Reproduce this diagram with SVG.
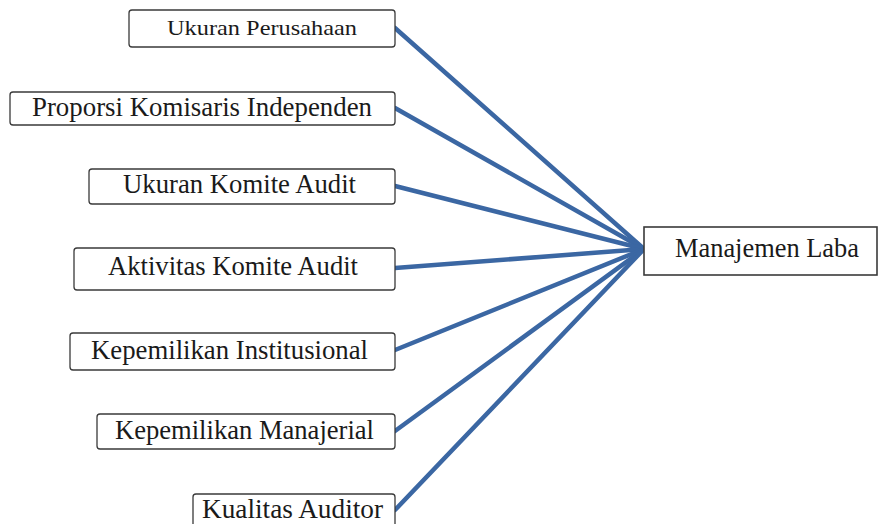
<svg xmlns="http://www.w3.org/2000/svg" width="878" height="524" viewBox="0 0 878 524">
<style>
.box{fill:#fff;stroke:#3a3a3a;stroke-width:1.3}
.t{font-family:"Liberation Serif","Times New Roman",serif;font-size:27px;fill:#1a1a1a}
.c{stroke:#3b67a3;stroke-width:4.5;stroke-linecap:round;fill:none}
</style>
<rect width="878" height="524" fill="#fff"/>
<g id="connectors">
<line class="c" x1="395" y1="28" x2="644" y2="249"/>
<line class="c" x1="395" y1="108" x2="644" y2="249"/>
<line class="c" x1="395" y1="186" x2="644" y2="249"/>
<line class="c" x1="395" y1="268" x2="644" y2="249"/>
<line class="c" x1="395" y1="350" x2="644" y2="249"/>
<line class="c" x1="395" y1="431" x2="644" y2="249"/>
<line class="c" x1="395" y1="510" x2="644" y2="249"/>
</g>
<g id="n1"><rect class="box" x="129" y="10" width="266" height="37" rx="3"/><text class="t" x="167" y="35" style="font-size:21px" textLength="190" lengthAdjust="spacingAndGlyphs">Ukuran Perusahaan</text></g>
<g id="n2"><rect class="box" x="10" y="92" width="385" height="33" rx="3"/><text class="t" x="32" y="116" textLength="340" lengthAdjust="spacingAndGlyphs">Proporsi Komisaris Independen</text></g>
<g id="n3"><rect class="box" x="89" y="169" width="306" height="35" rx="3"/><text class="t" x="123" y="193" textLength="233" lengthAdjust="spacingAndGlyphs">Ukuran Komite Audit</text></g>
<g id="n4"><rect class="box" x="74" y="248" width="321" height="42" rx="3"/><text class="t" x="108" y="275" textLength="250" lengthAdjust="spacingAndGlyphs">Aktivitas Komite Audit</text></g>
<g id="n5"><rect class="box" x="70" y="333" width="325" height="37" rx="3"/><text class="t" x="91" y="359" textLength="277" lengthAdjust="spacingAndGlyphs">Kepemilikan Institusional</text></g>
<g id="n6"><rect class="box" x="97" y="414" width="298" height="35" rx="3"/><text class="t" x="115" y="439" textLength="259" lengthAdjust="spacingAndGlyphs">Kepemilikan Manajerial</text></g>
<g id="n7"><rect class="box" x="193" y="494" width="202" height="40" rx="3"/><text class="t" x="202" y="518" textLength="181" lengthAdjust="spacingAndGlyphs">Kualitas Auditor</text></g>
<g id="target"><rect class="box" x="644" y="227" width="233" height="48" style="stroke-width:1.6"/><text class="t" x="675" y="257" textLength="184" lengthAdjust="spacingAndGlyphs">Manajemen Laba</text></g>
</svg>
